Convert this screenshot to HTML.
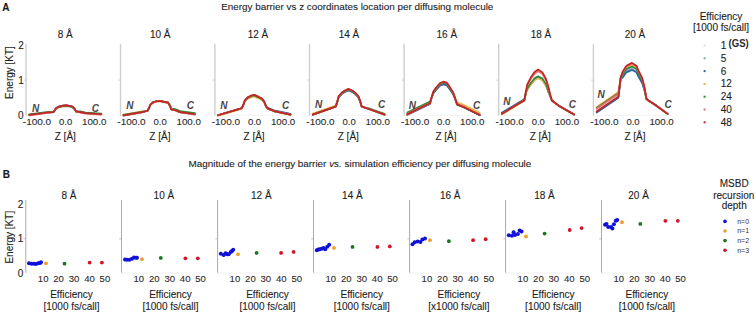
<!DOCTYPE html>
<html><head><meta charset="utf-8"><style>
html,body{margin:0;padding:0;background:#fff;}
svg{display:block;font-family:"Liberation Sans",sans-serif;}
</style></head><body>
<svg width="756" height="314" viewBox="0 0 756 314">
<rect width="756" height="314" fill="#fff"/>
<text x="357.30" y="9.60" font-size="9.9" text-anchor="middle" font-weight="normal" font-style="normal" fill="#1c1c1c" stroke="#1c1c1c" stroke-width="0.1" >Energy barrier vs z coordinates location per diffusing molecule</text>
<text x="2.30" y="10.50" font-size="10" text-anchor="start" font-weight="bold" font-style="normal" fill="#1c1c1c" stroke="#1c1c1c" stroke-width="0.15" >A</text>
<text x="188.6" y="167" font-size="9.9" fill="#1c1c1c" stroke="#1c1c1c" stroke-width="0.1">Magnitude of the energy barrier <tspan font-style="italic">vs.</tspan> simulation efficiency per diffusing molecule</text>
<text x="2.80" y="178.40" font-size="10" text-anchor="start" font-weight="bold" font-style="normal" fill="#1c1c1c" stroke="#1c1c1c" stroke-width="0.15" >B</text>
<line x1="26.0" y1="43.8" x2="26.0" y2="115.8" stroke="#cfcfcf" stroke-width="1.4"/>
<line x1="26.0" y1="115.3" x2="105.0" y2="115.3" stroke="#efefef" stroke-width="0.8"/>
<line x1="23.8" y1="80.1" x2="26.0" y2="80.1" stroke="#cfcfcf" stroke-width="0.9"/>
<text x="65.30" y="37.80" font-size="10" text-anchor="middle" font-weight="normal" font-style="normal" fill="#1c1c1c" stroke="#1c1c1c" stroke-width="0.1" >8 Å</text>
<path d="M29.28,114.95 L48.01,112.48 L53.39,112.13 L54.90,110.02 L55.99,108.26 L58.74,106.68 L63.31,105.62 L66.46,105.44 L71.89,106.32 L74.18,108.26 L76.10,111.43 L80.19,112.13 L85.91,113.19 L101.35,114.24" fill="none" stroke="#dcdce4" stroke-width="1.7" stroke-linejoin="round" stroke-linecap="round"/>
<path d="M29.28,114.95 L48.01,112.48 L53.39,112.13 L54.90,110.02 L55.99,108.26 L58.74,106.68 L63.31,105.62 L66.46,105.44 L71.89,106.32 L74.18,108.26 L76.10,111.43 L80.19,112.13 L85.91,113.19 L101.35,114.24" fill="none" stroke="#7ea4cc" stroke-width="1.7" stroke-linejoin="round" stroke-linecap="round"/>
<path d="M29.28,114.95 L48.01,112.48 L53.39,112.13 L54.90,110.02 L55.99,108.26 L58.74,106.68 L63.31,105.62 L66.46,105.44 L71.89,106.32 L74.18,108.26 L76.10,111.43 L80.19,112.13 L85.91,113.19 L101.35,114.24" fill="none" stroke="#2f62a0" stroke-width="1.7" stroke-linejoin="round" stroke-linecap="round"/>
<path d="M29.28,114.95 L48.01,112.48 L53.39,112.17 L54.90,110.18 L55.99,108.47 L58.74,106.93 L63.31,105.91 L66.46,105.74 L71.89,106.59 L74.18,108.47 L76.10,111.54 L80.19,112.13 L85.91,113.19 L101.35,114.24" fill="none" stroke="#eab24a" stroke-width="1.7" stroke-linejoin="round" stroke-linecap="round"/>
<path d="M29.28,114.42 L48.01,111.96 L53.39,112.22 L54.90,110.39 L55.99,108.75 L58.74,107.28 L63.31,106.30 L66.46,106.13 L71.89,106.95 L74.18,108.75 L76.10,111.70 L80.19,111.43 L85.91,112.48 L101.35,113.54" fill="none" stroke="#2e8b3e" stroke-width="1.7" stroke-linejoin="round" stroke-linecap="round"/>
<path d="M29.28,115.37 L48.01,112.91 L53.39,112.13 L54.90,110.02 L55.99,108.26 L58.74,106.68 L63.31,105.62 L66.46,105.44 L71.89,106.32 L74.18,108.26 L76.10,111.43 L80.19,112.55 L85.91,113.61 L101.35,114.67" fill="none" stroke="#ee6e6e" stroke-width="1.7" stroke-linejoin="round" stroke-linecap="round"/>
<path d="M29.28,114.95 L48.01,112.48 L53.39,112.13 L54.90,110.02 L55.99,108.26 L58.74,106.68 L63.31,105.62 L66.46,105.44 L71.89,106.32 L74.18,108.26 L76.10,111.43 L80.19,112.13 L85.91,113.19 L101.35,114.24" fill="none" stroke="#c02626" stroke-width="1.7" stroke-linejoin="round" stroke-linecap="round"/>
<text x="35.60" y="112.00" font-size="10" text-anchor="middle" font-weight="bold" font-style="italic" fill="#484848" >N</text>
<text x="95.30" y="112.20" font-size="10" text-anchor="middle" font-weight="bold" font-style="italic" fill="#484848" >C</text>
<text x="37.00" y="124.80" font-size="9.3" text-anchor="middle" font-weight="normal" font-style="normal" fill="#2a2a2a" stroke="#2a2a2a" stroke-width="0.1" textLength="28.3" lengthAdjust="spacingAndGlyphs">-100.0</text>
<text x="65.60" y="124.80" font-size="9.3" text-anchor="middle" font-weight="normal" font-style="normal" fill="#2a2a2a" stroke="#2a2a2a" stroke-width="0.1" textLength="13.2" lengthAdjust="spacingAndGlyphs">0.0</text>
<text x="94.20" y="124.80" font-size="9.3" text-anchor="middle" font-weight="normal" font-style="normal" fill="#2a2a2a" stroke="#2a2a2a" stroke-width="0.1" textLength="24.4" lengthAdjust="spacingAndGlyphs">100.0</text>
<text x="65.30" y="140.00" font-size="10" text-anchor="middle" font-weight="normal" font-style="normal" fill="#1c1c1c" stroke="#1c1c1c" stroke-width="0.1" >Z [Å]</text>
<line x1="120.5" y1="43.8" x2="120.5" y2="115.8" stroke="#cfcfcf" stroke-width="1.4"/>
<line x1="120.5" y1="115.3" x2="199.5" y2="115.3" stroke="#efefef" stroke-width="0.8"/>
<line x1="118.3" y1="80.1" x2="120.5" y2="80.1" stroke="#cfcfcf" stroke-width="0.9"/>
<text x="160.20" y="37.80" font-size="10" text-anchor="middle" font-weight="normal" font-style="normal" fill="#1c1c1c" stroke="#1c1c1c" stroke-width="0.1" >10 Å</text>
<path d="M123.49,115.30 L142.08,112.13 L147.52,110.72 L148.95,108.26 L150.38,104.74 L152.66,102.63 L156.50,101.22 L159.61,100.87 L164.10,101.92 L168.11,102.63 L170.11,106.15 L171.25,109.32 L174.97,110.02 L180.12,112.13 L194.99,114.24" fill="none" stroke="#dcdce4" stroke-width="1.7" stroke-linejoin="round" stroke-linecap="round"/>
<path d="M123.49,115.30 L142.08,112.13 L147.52,110.72 L148.95,108.26 L150.38,104.74 L152.66,102.63 L156.50,101.22 L159.61,100.87 L164.10,101.92 L168.11,102.63 L170.11,106.15 L171.25,109.32 L174.97,110.02 L180.12,112.13 L194.99,114.24" fill="none" stroke="#7ea4cc" stroke-width="1.7" stroke-linejoin="round" stroke-linecap="round"/>
<path d="M123.49,115.30 L142.08,112.13 L147.52,110.72 L148.95,108.26 L150.38,104.74 L152.66,102.63 L156.50,101.22 L159.61,100.87 L164.10,101.92 L168.11,102.63 L170.11,106.15 L171.25,109.32 L174.97,110.02 L180.12,112.13 L194.99,114.24" fill="none" stroke="#2f62a0" stroke-width="1.7" stroke-linejoin="round" stroke-linecap="round"/>
<path d="M123.49,114.60 L142.08,111.43 L147.52,110.76 L148.95,108.44 L150.38,105.06 L152.66,103.01 L156.50,101.64 L159.61,101.30 L164.10,102.33 L168.11,103.01 L170.11,106.42 L171.25,109.47 L174.97,110.02 L180.12,112.13 L194.99,114.24" fill="none" stroke="#eab24a" stroke-width="1.7" stroke-linejoin="round" stroke-linecap="round"/>
<path d="M123.49,114.95 L142.08,111.78 L147.52,110.72 L148.95,108.26 L150.38,104.74 L152.66,102.63 L156.50,101.22 L159.61,100.87 L164.10,101.92 L168.11,102.63 L170.11,106.15 L171.25,109.32 L174.97,108.96 L180.12,111.08 L194.99,113.19" fill="none" stroke="#2e8b3e" stroke-width="1.7" stroke-linejoin="round" stroke-linecap="round"/>
<path d="M123.49,115.65 L142.08,112.48 L147.52,110.72 L148.95,108.26 L150.38,104.74 L152.66,102.63 L156.50,101.22 L159.61,100.87 L164.10,101.92 L168.11,102.63 L170.11,106.15 L171.25,109.32 L174.97,110.37 L180.12,112.48 L194.99,114.60" fill="none" stroke="#ee6e6e" stroke-width="1.7" stroke-linejoin="round" stroke-linecap="round"/>
<path d="M123.49,115.30 L142.08,112.13 L147.52,110.72 L148.95,108.26 L150.38,104.74 L152.66,102.63 L156.50,101.22 L159.61,100.87 L164.10,101.92 L168.11,102.63 L170.11,106.15 L171.25,109.32 L174.97,110.02 L180.12,112.13 L194.99,114.24" fill="none" stroke="#c02626" stroke-width="1.7" stroke-linejoin="round" stroke-linecap="round"/>
<text x="129.80" y="108.60" font-size="10" text-anchor="middle" font-weight="bold" font-style="italic" fill="#484848" >N</text>
<text x="190.30" y="108.60" font-size="10" text-anchor="middle" font-weight="bold" font-style="italic" fill="#484848" >C</text>
<text x="131.50" y="124.80" font-size="9.3" text-anchor="middle" font-weight="normal" font-style="normal" fill="#2a2a2a" stroke="#2a2a2a" stroke-width="0.1" textLength="28.3" lengthAdjust="spacingAndGlyphs">-100.0</text>
<text x="160.10" y="124.80" font-size="9.3" text-anchor="middle" font-weight="normal" font-style="normal" fill="#2a2a2a" stroke="#2a2a2a" stroke-width="0.1" textLength="13.2" lengthAdjust="spacingAndGlyphs">0.0</text>
<text x="188.70" y="124.80" font-size="9.3" text-anchor="middle" font-weight="normal" font-style="normal" fill="#2a2a2a" stroke="#2a2a2a" stroke-width="0.1" textLength="24.4" lengthAdjust="spacingAndGlyphs">100.0</text>
<text x="159.90" y="140.00" font-size="10" text-anchor="middle" font-weight="normal" font-style="normal" fill="#1c1c1c" stroke="#1c1c1c" stroke-width="0.1" >Z [Å]</text>
<line x1="214.9" y1="43.8" x2="214.9" y2="115.8" stroke="#cfcfcf" stroke-width="1.4"/>
<line x1="214.9" y1="115.3" x2="293.9" y2="115.3" stroke="#efefef" stroke-width="0.8"/>
<line x1="212.70000000000002" y1="80.1" x2="214.9" y2="80.1" stroke="#cfcfcf" stroke-width="0.9"/>
<text x="258.00" y="37.80" font-size="10" text-anchor="middle" font-weight="normal" font-style="normal" fill="#1c1c1c" stroke="#1c1c1c" stroke-width="0.1" >12 Å</text>
<path d="M217.89,115.30 L237.91,109.32 L241.63,108.26 L243.35,104.74 L244.78,100.52 L247.81,97.35 L251.35,95.59 L254.10,94.88 L258.22,96.64 L261.65,98.40 L264.22,101.57 L266.08,106.50 L267.94,108.61 L273.95,111.08 L290.54,114.60" fill="none" stroke="#dcdce4" stroke-width="1.7" stroke-linejoin="round" stroke-linecap="round"/>
<path d="M217.89,115.30 L237.91,109.32 L241.63,108.26 L243.35,104.74 L244.78,100.52 L247.81,97.35 L251.35,95.59 L254.10,94.88 L258.22,96.64 L261.65,98.40 L264.22,101.57 L266.08,106.50 L267.94,108.61 L273.95,111.08 L290.54,114.60" fill="none" stroke="#7ea4cc" stroke-width="1.7" stroke-linejoin="round" stroke-linecap="round"/>
<path d="M217.89,115.30 L237.91,109.32 L241.63,108.26 L243.35,104.92 L244.78,100.81 L247.81,97.71 L251.35,95.98 L254.10,95.29 L258.22,97.02 L261.65,98.74 L264.22,101.85 L266.08,106.62 L267.94,107.91 L273.95,110.37 L290.54,113.89" fill="none" stroke="#2f62a0" stroke-width="1.7" stroke-linejoin="round" stroke-linecap="round"/>
<path d="M217.89,116.00 L237.91,110.02 L241.63,108.96 L243.35,105.48 L244.78,101.70 L247.81,98.78 L251.35,97.16 L254.10,96.52 L258.22,98.14 L261.65,99.76 L264.22,102.67 L266.08,106.98 L267.94,108.96 L273.95,111.43 L290.54,114.95" fill="none" stroke="#eab24a" stroke-width="1.7" stroke-linejoin="round" stroke-linecap="round"/>
<path d="M217.89,115.30 L237.91,109.32 L241.63,108.26 L243.35,105.02 L244.78,100.96 L247.81,97.89 L251.35,96.18 L254.10,95.50 L258.22,97.20 L261.65,98.91 L264.22,101.98 L266.08,106.68 L267.94,108.61 L273.95,111.08 L290.54,114.60" fill="none" stroke="#2e8b3e" stroke-width="1.7" stroke-linejoin="round" stroke-linecap="round"/>
<path d="M217.89,115.30 L237.91,109.32 L241.63,108.26 L243.35,104.83 L244.78,100.66 L247.81,97.53 L251.35,95.79 L254.10,95.09 L258.22,96.83 L261.65,98.57 L264.22,101.71 L266.08,106.56 L267.94,108.61 L273.95,111.08 L290.54,114.60" fill="none" stroke="#ee6e6e" stroke-width="1.7" stroke-linejoin="round" stroke-linecap="round"/>
<path d="M217.89,115.30 L237.91,109.32 L241.63,108.26 L243.35,104.74 L244.78,100.52 L247.81,97.35 L251.35,95.59 L254.10,94.88 L258.22,96.64 L261.65,98.40 L264.22,101.57 L266.08,106.50 L267.94,108.61 L273.95,111.08 L290.54,114.60" fill="none" stroke="#c02626" stroke-width="1.7" stroke-linejoin="round" stroke-linecap="round"/>
<text x="223.90" y="108.60" font-size="10" text-anchor="middle" font-weight="bold" font-style="italic" fill="#484848" >N</text>
<text x="285.70" y="108.60" font-size="10" text-anchor="middle" font-weight="bold" font-style="italic" fill="#484848" >C</text>
<text x="225.90" y="124.80" font-size="9.3" text-anchor="middle" font-weight="normal" font-style="normal" fill="#2a2a2a" stroke="#2a2a2a" stroke-width="0.1" textLength="28.3" lengthAdjust="spacingAndGlyphs">-100.0</text>
<text x="254.50" y="124.80" font-size="9.3" text-anchor="middle" font-weight="normal" font-style="normal" fill="#2a2a2a" stroke="#2a2a2a" stroke-width="0.1" textLength="13.2" lengthAdjust="spacingAndGlyphs">0.0</text>
<text x="283.10" y="124.80" font-size="9.3" text-anchor="middle" font-weight="normal" font-style="normal" fill="#2a2a2a" stroke="#2a2a2a" stroke-width="0.1" textLength="24.4" lengthAdjust="spacingAndGlyphs">100.0</text>
<text x="254.10" y="140.00" font-size="10" text-anchor="middle" font-weight="normal" font-style="normal" fill="#1c1c1c" stroke="#1c1c1c" stroke-width="0.1" >Z [Å]</text>
<line x1="309.5" y1="43.8" x2="309.5" y2="115.8" stroke="#cfcfcf" stroke-width="1.4"/>
<line x1="309.5" y1="115.3" x2="388.5" y2="115.3" stroke="#efefef" stroke-width="0.8"/>
<line x1="307.3" y1="80.1" x2="309.5" y2="80.1" stroke="#cfcfcf" stroke-width="0.9"/>
<text x="349.00" y="37.80" font-size="10" text-anchor="middle" font-weight="normal" font-style="normal" fill="#1c1c1c" stroke="#1c1c1c" stroke-width="0.1" >14 Å</text>
<path d="M312.78,114.60 L331.94,107.91 L335.80,106.50 L337.37,101.57 L338.69,97.05 L341.66,93.67 L345.38,91.31 L348.70,89.96 L352.53,91.65 L355.51,94.01 L358.40,97.05 L360.25,101.71 L361.68,106.59 L368.83,108.96 L384.56,114.60" fill="none" stroke="#dcdce4" stroke-width="1.7" stroke-linejoin="round" stroke-linecap="round"/>
<path d="M312.78,114.60 L331.94,107.91 L335.80,106.50 L337.37,101.66 L338.69,97.24 L341.66,93.90 L345.38,91.56 L348.70,90.22 L352.53,91.89 L355.51,94.23 L358.40,97.24 L360.25,101.84 L361.68,106.61 L368.83,108.96 L384.56,114.60" fill="none" stroke="#7ea4cc" stroke-width="1.7" stroke-linejoin="round" stroke-linecap="round"/>
<path d="M312.78,114.60 L331.94,107.91 L335.80,106.50 L337.37,101.75 L338.69,97.43 L341.66,94.12 L345.38,91.81 L348.70,90.48 L352.53,92.14 L355.51,94.45 L358.40,97.43 L360.25,101.96 L361.68,106.63 L368.83,108.96 L384.56,114.60" fill="none" stroke="#2f62a0" stroke-width="1.7" stroke-linejoin="round" stroke-linecap="round"/>
<path d="M312.78,113.54 L331.94,106.85 L335.80,105.44 L337.37,101.40 L338.69,96.67 L341.66,93.22 L345.38,90.81 L348.70,89.43 L352.53,91.15 L355.51,93.57 L358.40,96.67 L360.25,101.47 L361.68,106.54 L368.83,108.96 L384.56,114.60" fill="none" stroke="#eab24a" stroke-width="1.7" stroke-linejoin="round" stroke-linecap="round"/>
<path d="M312.78,114.60 L331.94,107.91 L335.80,106.50 L337.37,101.40 L338.69,96.67 L341.66,93.22 L345.38,90.81 L348.70,89.43 L352.53,91.15 L355.51,93.57 L358.40,96.67 L360.25,101.47 L361.68,106.54 L368.83,108.26 L384.56,113.89" fill="none" stroke="#2e8b3e" stroke-width="1.7" stroke-linejoin="round" stroke-linecap="round"/>
<path d="M312.78,114.60 L331.94,107.91 L335.80,106.50 L337.37,101.22 L338.69,96.29 L341.66,92.77 L345.38,90.31 L348.70,88.90 L352.53,90.66 L355.51,93.12 L358.40,96.29 L360.25,101.22 L361.68,106.50 L368.83,108.96 L384.56,114.60" fill="none" stroke="#ee6e6e" stroke-width="1.7" stroke-linejoin="round" stroke-linecap="round"/>
<path d="M312.78,114.60 L331.94,107.91 L335.80,106.50 L337.37,101.22 L338.69,96.29 L341.66,92.77 L345.38,90.31 L348.70,88.90 L352.53,90.66 L355.51,93.12 L358.40,96.29 L360.25,101.22 L361.68,106.50 L368.83,108.96 L384.56,114.60" fill="none" stroke="#c02626" stroke-width="1.7" stroke-linejoin="round" stroke-linecap="round"/>
<text x="318.60" y="108.40" font-size="10" text-anchor="middle" font-weight="bold" font-style="italic" fill="#484848" >N</text>
<text x="381.50" y="108.40" font-size="10" text-anchor="middle" font-weight="bold" font-style="italic" fill="#484848" >C</text>
<text x="320.50" y="124.80" font-size="9.3" text-anchor="middle" font-weight="normal" font-style="normal" fill="#2a2a2a" stroke="#2a2a2a" stroke-width="0.1" textLength="28.3" lengthAdjust="spacingAndGlyphs">-100.0</text>
<text x="349.10" y="124.80" font-size="9.3" text-anchor="middle" font-weight="normal" font-style="normal" fill="#2a2a2a" stroke="#2a2a2a" stroke-width="0.1" textLength="13.2" lengthAdjust="spacingAndGlyphs">0.0</text>
<text x="377.70" y="124.80" font-size="9.3" text-anchor="middle" font-weight="normal" font-style="normal" fill="#2a2a2a" stroke="#2a2a2a" stroke-width="0.1" textLength="24.4" lengthAdjust="spacingAndGlyphs">100.0</text>
<text x="348.30" y="140.00" font-size="10" text-anchor="middle" font-weight="normal" font-style="normal" fill="#1c1c1c" stroke="#1c1c1c" stroke-width="0.1" >Z [Å]</text>
<line x1="404.1" y1="43.8" x2="404.1" y2="115.8" stroke="#cfcfcf" stroke-width="1.4"/>
<line x1="404.1" y1="115.3" x2="483.1" y2="115.3" stroke="#efefef" stroke-width="0.8"/>
<line x1="401.90000000000003" y1="80.1" x2="404.1" y2="80.1" stroke="#cfcfcf" stroke-width="0.9"/>
<text x="446.80" y="37.80" font-size="10" text-anchor="middle" font-weight="normal" font-style="normal" fill="#1c1c1c" stroke="#1c1c1c" stroke-width="0.1" >16 Å</text>
<path d="M407.21,114.24 L429.97,103.33 L431.69,97.55 L433.49,92.80 L436.26,89.16 L439.81,85.19 L443.21,83.70 L446.70,84.53 L450.28,89.49 L453.14,93.79 L455.43,99.72 L457.14,103.33 L464.01,106.15 L479.74,113.89" fill="none" stroke="#dcdce4" stroke-width="1.7" stroke-linejoin="round" stroke-linecap="round"/>
<path d="M407.21,114.60 L429.97,103.68 L431.69,97.64 L433.49,93.04 L436.26,89.44 L439.81,85.51 L443.21,84.04 L446.70,84.86 L450.28,89.77 L453.14,94.02 L455.43,99.82 L457.14,104.39 L464.01,107.20 L479.74,114.95" fill="none" stroke="#7ea4cc" stroke-width="1.7" stroke-linejoin="round" stroke-linecap="round"/>
<path d="M407.21,114.95 L429.97,104.04 L431.69,97.73 L433.49,93.28 L436.26,89.72 L439.81,85.83 L443.21,84.37 L446.70,85.18 L450.28,90.04 L453.14,94.25 L455.43,99.92 L457.14,104.74 L464.01,107.56 L479.74,115.30" fill="none" stroke="#2f62a0" stroke-width="1.7" stroke-linejoin="round" stroke-linecap="round"/>
<path d="M407.21,114.24 L429.97,103.33 L431.69,97.18 L433.49,91.84 L436.26,88.05 L439.81,83.91 L443.21,82.36 L446.70,83.22 L450.28,88.39 L453.14,92.88 L455.43,99.31 L457.14,102.28 L464.01,105.09 L479.74,112.84" fill="none" stroke="#eab24a" stroke-width="1.7" stroke-linejoin="round" stroke-linecap="round"/>
<path d="M407.21,112.48 L429.97,101.57 L431.69,97.27 L433.49,92.08 L436.26,88.33 L439.81,84.23 L443.21,82.69 L446.70,83.55 L450.28,88.67 L453.14,93.11 L455.43,99.41 L457.14,104.39 L464.01,107.20 L479.74,114.95" fill="none" stroke="#2e8b3e" stroke-width="1.7" stroke-linejoin="round" stroke-linecap="round"/>
<path d="M407.21,113.89 L429.97,102.98 L431.69,97.09 L433.49,91.60 L436.26,87.77 L439.81,83.59 L443.21,82.02 L446.70,82.89 L450.28,88.12 L453.14,92.65 L455.43,99.21 L457.14,104.04 L464.01,106.85 L479.74,114.60" fill="none" stroke="#ee6e6e" stroke-width="1.7" stroke-linejoin="round" stroke-linecap="round"/>
<path d="M407.21,114.24 L429.97,103.33 L431.69,97.00 L433.49,91.36 L436.26,87.49 L439.81,83.27 L443.21,81.68 L446.70,82.56 L450.28,87.84 L453.14,92.42 L455.43,99.11 L457.14,104.39 L464.01,107.20 L479.74,114.95" fill="none" stroke="#c02626" stroke-width="1.7" stroke-linejoin="round" stroke-linecap="round"/>
<text x="412.40" y="108.80" font-size="10" text-anchor="middle" font-weight="bold" font-style="italic" fill="#484848" >N</text>
<text x="476.70" y="108.60" font-size="10" text-anchor="middle" font-weight="bold" font-style="italic" fill="#484848" >C</text>
<text x="415.10" y="124.80" font-size="9.3" text-anchor="middle" font-weight="normal" font-style="normal" fill="#2a2a2a" stroke="#2a2a2a" stroke-width="0.1" textLength="28.3" lengthAdjust="spacingAndGlyphs">-100.0</text>
<text x="443.70" y="124.80" font-size="9.3" text-anchor="middle" font-weight="normal" font-style="normal" fill="#2a2a2a" stroke="#2a2a2a" stroke-width="0.1" textLength="13.2" lengthAdjust="spacingAndGlyphs">0.0</text>
<text x="472.30" y="124.80" font-size="9.3" text-anchor="middle" font-weight="normal" font-style="normal" fill="#2a2a2a" stroke="#2a2a2a" stroke-width="0.1" textLength="24.4" lengthAdjust="spacingAndGlyphs">100.0</text>
<text x="446.00" y="140.00" font-size="10" text-anchor="middle" font-weight="normal" font-style="normal" fill="#1c1c1c" stroke="#1c1c1c" stroke-width="0.1" >Z [Å]</text>
<line x1="498.7" y1="43.8" x2="498.7" y2="115.8" stroke="#cfcfcf" stroke-width="1.4"/>
<line x1="498.7" y1="115.3" x2="577.7" y2="115.3" stroke="#efefef" stroke-width="0.8"/>
<line x1="496.5" y1="80.1" x2="498.7" y2="80.1" stroke="#cfcfcf" stroke-width="0.9"/>
<text x="541.00" y="37.80" font-size="10" text-anchor="middle" font-weight="normal" font-style="normal" fill="#1c1c1c" stroke="#1c1c1c" stroke-width="0.1" >18 Å</text>
<path d="M501.78,113.89 L524.40,100.16 L526.00,92.70 L527.29,89.70 L530.86,84.32 L534.58,80.01 L538.10,78.01 L542.50,80.30 L546.19,86.04 L548.31,91.78 L550.48,97.14 L551.88,100.52 L558.32,105.44 L574.05,114.60" fill="none" stroke="#dcdce4" stroke-width="1.7" stroke-linejoin="round" stroke-linecap="round"/>
<path d="M501.78,113.36 L524.40,99.64 L526.00,92.65 L527.29,89.55 L530.86,84.13 L534.58,79.80 L538.10,77.78 L542.50,80.09 L546.19,85.86 L548.31,91.63 L550.48,97.10 L551.88,100.52 L558.32,105.44 L574.05,114.60" fill="none" stroke="#7ea4cc" stroke-width="1.7" stroke-linejoin="round" stroke-linecap="round"/>
<path d="M501.78,112.84 L524.40,99.11 L526.00,92.56 L527.29,89.26 L530.86,83.75 L534.58,79.36 L538.10,77.32 L542.50,79.66 L546.19,85.50 L548.31,91.34 L550.48,97.01 L551.88,100.52 L558.32,105.44 L574.05,114.60" fill="none" stroke="#2f62a0" stroke-width="1.7" stroke-linejoin="round" stroke-linecap="round"/>
<path d="M501.78,114.42 L524.40,100.69 L526.00,92.74 L527.29,89.84 L530.86,84.51 L534.58,80.23 L538.10,78.23 L542.50,80.52 L546.19,86.22 L548.31,91.92 L550.48,97.18 L551.88,100.52 L558.32,105.44 L574.05,114.60" fill="none" stroke="#eab24a" stroke-width="1.7" stroke-linejoin="round" stroke-linecap="round"/>
<path d="M501.78,113.89 L524.40,100.16 L526.00,92.33 L527.29,88.53 L530.86,82.80 L534.58,78.28 L538.10,76.18 L542.50,78.58 L546.19,84.60 L548.31,90.62 L550.48,96.80 L551.88,100.52 L558.32,105.44 L574.05,114.60" fill="none" stroke="#2e8b3e" stroke-width="1.7" stroke-linejoin="round" stroke-linecap="round"/>
<path d="M501.78,113.89 L524.40,100.16 L526.00,91.38 L527.29,85.49 L530.86,78.80 L534.58,73.74 L538.10,71.37 L542.50,74.07 L546.19,80.83 L548.31,87.59 L550.48,95.92 L551.88,100.52 L558.32,105.44 L574.05,114.60" fill="none" stroke="#ee6e6e" stroke-width="1.7" stroke-linejoin="round" stroke-linecap="round"/>
<path d="M501.78,113.89 L524.40,100.16 L526.00,91.01 L527.29,84.32 L530.86,77.28 L534.58,72.00 L538.10,69.54 L542.50,72.36 L546.19,79.40 L548.31,86.44 L550.48,95.59 L551.88,100.52 L558.32,105.44 L574.05,114.60" fill="none" stroke="#c02626" stroke-width="1.7" stroke-linejoin="round" stroke-linecap="round"/>
<text x="506.90" y="104.80" font-size="10" text-anchor="middle" font-weight="bold" font-style="italic" fill="#484848" >N</text>
<text x="572.40" y="108.30" font-size="10" text-anchor="middle" font-weight="bold" font-style="italic" fill="#484848" >C</text>
<text x="509.70" y="124.80" font-size="9.3" text-anchor="middle" font-weight="normal" font-style="normal" fill="#2a2a2a" stroke="#2a2a2a" stroke-width="0.1" textLength="28.3" lengthAdjust="spacingAndGlyphs">-100.0</text>
<text x="538.30" y="124.80" font-size="9.3" text-anchor="middle" font-weight="normal" font-style="normal" fill="#2a2a2a" stroke="#2a2a2a" stroke-width="0.1" textLength="13.2" lengthAdjust="spacingAndGlyphs">0.0</text>
<text x="566.90" y="124.80" font-size="9.3" text-anchor="middle" font-weight="normal" font-style="normal" fill="#2a2a2a" stroke="#2a2a2a" stroke-width="0.1" textLength="24.4" lengthAdjust="spacingAndGlyphs">100.0</text>
<text x="540.20" y="140.00" font-size="10" text-anchor="middle" font-weight="normal" font-style="normal" fill="#1c1c1c" stroke="#1c1c1c" stroke-width="0.1" >Z [Å]</text>
<line x1="593.4" y1="43.8" x2="593.4" y2="115.8" stroke="#cfcfcf" stroke-width="1.4"/>
<line x1="593.4" y1="115.3" x2="672.4" y2="115.3" stroke="#efefef" stroke-width="0.8"/>
<line x1="591.1999999999999" y1="80.1" x2="593.4" y2="80.1" stroke="#cfcfcf" stroke-width="0.9"/>
<text x="635.00" y="37.80" font-size="10" text-anchor="middle" font-weight="normal" font-style="normal" fill="#1c1c1c" stroke="#1c1c1c" stroke-width="0.1" >20 Å</text>
<path d="M596.68,110.37 L618.41,95.59 L620.70,78.71 L622.70,76.02 L626.42,70.63 L632.00,68.10 L636.43,70.63 L638.61,75.38 L642.15,81.72 L644.30,88.78 L646.44,98.76 L648.44,100.52 L655.02,104.74 L667.61,113.89" fill="none" stroke="#dcdce4" stroke-width="1.7" stroke-linejoin="round" stroke-linecap="round"/>
<path d="M596.68,111.96 L618.41,97.17 L620.70,78.92 L622.70,76.67 L626.42,71.38 L632.00,68.88 L636.43,71.38 L638.61,76.05 L642.15,82.28 L644.30,89.13 L646.44,98.76 L648.44,100.52 L655.02,104.74 L667.61,113.89" fill="none" stroke="#7ea4cc" stroke-width="1.7" stroke-linejoin="round" stroke-linecap="round"/>
<path d="M596.68,112.48 L618.41,97.70 L620.70,79.21 L622.70,77.54 L626.42,72.37 L632.00,69.93 L636.43,72.37 L638.61,76.94 L642.15,83.03 L644.30,89.60 L646.44,98.76 L648.44,100.52 L655.02,104.74 L667.61,113.89" fill="none" stroke="#2f62a0" stroke-width="1.7" stroke-linejoin="round" stroke-linecap="round"/>
<path d="M596.68,106.85 L618.41,92.07 L620.70,77.78 L622.70,73.18 L626.42,67.41 L632.00,64.69 L636.43,67.41 L638.61,72.50 L642.15,79.29 L644.30,87.26 L646.44,98.76 L648.44,100.52 L655.02,104.74 L667.61,113.89" fill="none" stroke="#eab24a" stroke-width="1.7" stroke-linejoin="round" stroke-linecap="round"/>
<path d="M596.68,107.91 L618.41,93.12 L620.70,78.28 L622.70,74.71 L626.42,69.14 L632.00,66.52 L636.43,69.14 L638.61,74.05 L642.15,80.60 L644.30,88.08 L646.44,98.76 L648.44,100.52 L655.02,104.74 L667.61,113.89" fill="none" stroke="#2e8b3e" stroke-width="1.7" stroke-linejoin="round" stroke-linecap="round"/>
<path d="M596.68,108.79 L618.41,94.00 L620.70,77.50 L622.70,72.31 L626.42,66.41 L632.00,63.64 L636.43,66.41 L638.61,71.61 L642.15,78.55 L644.30,86.79 L646.44,98.76 L648.44,100.52 L655.02,104.74 L667.61,113.89" fill="none" stroke="#ee6e6e" stroke-width="1.7" stroke-linejoin="round" stroke-linecap="round"/>
<path d="M596.68,111.43 L618.41,96.64 L620.70,77.28 L622.70,71.65 L626.42,65.67 L632.00,62.85 L636.43,65.67 L638.61,70.95 L642.15,77.99 L644.30,86.44 L646.44,98.76 L648.44,100.52 L655.02,104.74 L667.61,113.89" fill="none" stroke="#c02626" stroke-width="1.7" stroke-linejoin="round" stroke-linecap="round"/>
<text x="601.10" y="97.80" font-size="10" text-anchor="middle" font-weight="bold" font-style="italic" fill="#484848" >N</text>
<text x="668.00" y="108.20" font-size="10" text-anchor="middle" font-weight="bold" font-style="italic" fill="#484848" >C</text>
<text x="604.40" y="124.80" font-size="9.3" text-anchor="middle" font-weight="normal" font-style="normal" fill="#2a2a2a" stroke="#2a2a2a" stroke-width="0.1" textLength="28.3" lengthAdjust="spacingAndGlyphs">-100.0</text>
<text x="633.00" y="124.80" font-size="9.3" text-anchor="middle" font-weight="normal" font-style="normal" fill="#2a2a2a" stroke="#2a2a2a" stroke-width="0.1" textLength="13.2" lengthAdjust="spacingAndGlyphs">0.0</text>
<text x="661.60" y="124.80" font-size="9.3" text-anchor="middle" font-weight="normal" font-style="normal" fill="#2a2a2a" stroke="#2a2a2a" stroke-width="0.1" textLength="24.4" lengthAdjust="spacingAndGlyphs">100.0</text>
<text x="635.00" y="140.00" font-size="10" text-anchor="middle" font-weight="normal" font-style="normal" fill="#1c1c1c" stroke="#1c1c1c" stroke-width="0.1" >Z [Å]</text>
<text x="23.80" y="48.50" font-size="10" text-anchor="end" font-weight="normal" font-style="normal" fill="#1c1c1c" stroke="#1c1c1c" stroke-width="0.1" >2</text>
<text x="23.80" y="84.00" font-size="10" text-anchor="end" font-weight="normal" font-style="normal" fill="#1c1c1c" stroke="#1c1c1c" stroke-width="0.1" >1</text>
<text x="23.60" y="119.30" font-size="10" text-anchor="end" font-weight="normal" font-style="normal" fill="#1c1c1c" stroke="#1c1c1c" stroke-width="0.1" >0</text>
<text transform="translate(13.4,72.5) rotate(-90)" font-size="10" text-anchor="middle" fill="#1c1c1c" stroke="#1c1c1c" stroke-width="0.1">Energy [KT]</text>
<text x="721.00" y="19.80" font-size="10" text-anchor="middle" font-weight="normal" font-style="normal" fill="#1c1c1c" stroke="#1c1c1c" stroke-width="0.1" >Efficiency</text>
<text x="721.00" y="31.00" font-size="10" text-anchor="middle" font-weight="normal" font-style="normal" fill="#1c1c1c" stroke="#1c1c1c" stroke-width="0.1" >[1000 fs/call]</text>
<rect x="703.6" y="44.5" width="2" height="2" fill="#dcdce4"/>
<text x="720.80" y="48.90" font-size="10" text-anchor="start" font-weight="normal" font-style="normal" fill="#1c1c1c" stroke="#1c1c1c" stroke-width="0.1" >1</text>
<rect x="703.6" y="57.3" width="2" height="2" fill="#7ea4cc"/>
<text x="720.80" y="61.70" font-size="10" text-anchor="start" font-weight="normal" font-style="normal" fill="#1c1c1c" stroke="#1c1c1c" stroke-width="0.1" >5</text>
<rect x="703.6" y="70.1" width="2" height="2" fill="#2f62a0"/>
<text x="720.80" y="74.50" font-size="10" text-anchor="start" font-weight="normal" font-style="normal" fill="#1c1c1c" stroke="#1c1c1c" stroke-width="0.1" >6</text>
<rect x="703.6" y="82.9" width="2" height="2" fill="#eab24a"/>
<text x="720.80" y="87.30" font-size="10" text-anchor="start" font-weight="normal" font-style="normal" fill="#1c1c1c" stroke="#1c1c1c" stroke-width="0.1" >12</text>
<rect x="703.6" y="95.7" width="2" height="2" fill="#2e8b3e"/>
<text x="720.80" y="100.10" font-size="10" text-anchor="start" font-weight="normal" font-style="normal" fill="#1c1c1c" stroke="#1c1c1c" stroke-width="0.1" >24</text>
<rect x="703.6" y="108.5" width="2" height="2" fill="#ee6e6e"/>
<text x="720.80" y="112.90" font-size="10" text-anchor="start" font-weight="normal" font-style="normal" fill="#1c1c1c" stroke="#1c1c1c" stroke-width="0.1" >40</text>
<rect x="703.6" y="121.30000000000001" width="2" height="2" fill="#c02626"/>
<text x="720.80" y="125.70" font-size="10" text-anchor="start" font-weight="normal" font-style="normal" fill="#1c1c1c" stroke="#1c1c1c" stroke-width="0.1" >48</text>
<text x="728.60" y="47.00" font-size="10" text-anchor="start" font-weight="bold" font-style="normal" fill="#2a2a2a" textLength="20.2" lengthAdjust="spacingAndGlyphs">(GS)</text>
<line x1="25.8" y1="200" x2="25.8" y2="272.8" stroke="#ababab" stroke-width="1"/>
<line x1="25.8" y1="273.0" x2="105.8" y2="273.0" stroke="#eeeeee" stroke-width="0.8"/>
<line x1="23.6" y1="238.8" x2="25.8" y2="238.8" stroke="#b8b8b8" stroke-width="0.9"/>
<text x="68.90" y="198.70" font-size="10" text-anchor="middle" font-weight="normal" font-style="normal" fill="#1c1c1c" stroke="#1c1c1c" stroke-width="0.1" >8 Å</text>
<circle cx="29.00" cy="263.30" r="2.0" fill="#1010d8"/>
<circle cx="31.50" cy="263.64" r="2.0" fill="#1010d8"/>
<circle cx="34.00" cy="263.81" r="2.0" fill="#1010d8"/>
<circle cx="36.00" cy="263.99" r="2.0" fill="#1010d8"/>
<circle cx="38.00" cy="263.30" r="2.0" fill="#1010d8"/>
<circle cx="40.00" cy="262.95" r="2.0" fill="#1010d8"/>
<circle cx="41.00" cy="262.26" r="2.0" fill="#1010d8"/>
<circle cx="46.00" cy="263.30" r="1.9" fill="#e8a32c"/>
<circle cx="64.50" cy="263.64" r="1.9" fill="#17761f"/>
<circle cx="89.60" cy="262.61" r="1.9" fill="#d0142a"/>
<circle cx="101.90" cy="262.61" r="1.9" fill="#d0142a"/>
<text x="43.14" y="282.10" font-size="9.3" text-anchor="middle" font-weight="normal" font-style="normal" fill="#2a2a2a" stroke="#2a2a2a" stroke-width="0.1" textLength="10.6" lengthAdjust="spacingAndGlyphs">10</text>
<text x="58.58" y="282.10" font-size="9.3" text-anchor="middle" font-weight="normal" font-style="normal" fill="#2a2a2a" stroke="#2a2a2a" stroke-width="0.1" textLength="10.6" lengthAdjust="spacingAndGlyphs">20</text>
<text x="74.02" y="282.10" font-size="9.3" text-anchor="middle" font-weight="normal" font-style="normal" fill="#2a2a2a" stroke="#2a2a2a" stroke-width="0.1" textLength="10.6" lengthAdjust="spacingAndGlyphs">30</text>
<text x="89.46" y="282.10" font-size="9.3" text-anchor="middle" font-weight="normal" font-style="normal" fill="#2a2a2a" stroke="#2a2a2a" stroke-width="0.1" textLength="10.6" lengthAdjust="spacingAndGlyphs">40</text>
<text x="104.90" y="282.10" font-size="9.3" text-anchor="middle" font-weight="normal" font-style="normal" fill="#2a2a2a" stroke="#2a2a2a" stroke-width="0.1" textLength="10.6" lengthAdjust="spacingAndGlyphs">50</text>
<text x="71.50" y="298.20" font-size="10" text-anchor="middle" font-weight="normal" font-style="normal" fill="#1c1c1c" stroke="#1c1c1c" stroke-width="0.1" >Efficiency</text>
<text x="71.50" y="309.90" font-size="10" text-anchor="middle" font-weight="normal" font-style="normal" fill="#1c1c1c" stroke="#1c1c1c" stroke-width="0.1" >[1000 fs/call]</text>
<line x1="121.5" y1="200" x2="121.5" y2="272.8" stroke="#ababab" stroke-width="1"/>
<line x1="121.5" y1="273.0" x2="201.5" y2="273.0" stroke="#eeeeee" stroke-width="0.8"/>
<line x1="119.3" y1="238.8" x2="121.5" y2="238.8" stroke="#b8b8b8" stroke-width="0.9"/>
<text x="163.90" y="198.70" font-size="10" text-anchor="middle" font-weight="normal" font-style="normal" fill="#1c1c1c" stroke="#1c1c1c" stroke-width="0.1" >10 Å</text>
<circle cx="125.00" cy="259.50" r="2.0" fill="#1010d8"/>
<circle cx="127.00" cy="259.85" r="2.0" fill="#1010d8"/>
<circle cx="129.50" cy="259.85" r="2.0" fill="#1010d8"/>
<circle cx="132.00" cy="258.81" r="2.0" fill="#1010d8"/>
<circle cx="134.00" cy="257.43" r="2.0" fill="#1010d8"/>
<circle cx="136.00" cy="257.78" r="2.0" fill="#1010d8"/>
<circle cx="137.00" cy="257.78" r="2.0" fill="#1010d8"/>
<circle cx="142.00" cy="259.16" r="1.9" fill="#e8a32c"/>
<circle cx="160.80" cy="257.91" r="1.9" fill="#17761f"/>
<circle cx="185.40" cy="258.29" r="1.9" fill="#d0142a"/>
<circle cx="197.80" cy="258.29" r="1.9" fill="#d0142a"/>
<text x="138.84" y="282.10" font-size="9.3" text-anchor="middle" font-weight="normal" font-style="normal" fill="#2a2a2a" stroke="#2a2a2a" stroke-width="0.1" textLength="10.6" lengthAdjust="spacingAndGlyphs">10</text>
<text x="154.28" y="282.10" font-size="9.3" text-anchor="middle" font-weight="normal" font-style="normal" fill="#2a2a2a" stroke="#2a2a2a" stroke-width="0.1" textLength="10.6" lengthAdjust="spacingAndGlyphs">20</text>
<text x="169.72" y="282.10" font-size="9.3" text-anchor="middle" font-weight="normal" font-style="normal" fill="#2a2a2a" stroke="#2a2a2a" stroke-width="0.1" textLength="10.6" lengthAdjust="spacingAndGlyphs">30</text>
<text x="185.16" y="282.10" font-size="9.3" text-anchor="middle" font-weight="normal" font-style="normal" fill="#2a2a2a" stroke="#2a2a2a" stroke-width="0.1" textLength="10.6" lengthAdjust="spacingAndGlyphs">40</text>
<text x="200.60" y="282.10" font-size="9.3" text-anchor="middle" font-weight="normal" font-style="normal" fill="#2a2a2a" stroke="#2a2a2a" stroke-width="0.1" textLength="10.6" lengthAdjust="spacingAndGlyphs">50</text>
<text x="170.50" y="298.20" font-size="10" text-anchor="middle" font-weight="normal" font-style="normal" fill="#1c1c1c" stroke="#1c1c1c" stroke-width="0.1" >Efficiency</text>
<text x="170.50" y="309.90" font-size="10" text-anchor="middle" font-weight="normal" font-style="normal" fill="#1c1c1c" stroke="#1c1c1c" stroke-width="0.1" >[1000 fs/call]</text>
<line x1="217.6" y1="200" x2="217.6" y2="272.8" stroke="#ababab" stroke-width="1"/>
<line x1="217.6" y1="273.0" x2="297.6" y2="273.0" stroke="#eeeeee" stroke-width="0.8"/>
<line x1="215.4" y1="238.8" x2="217.6" y2="238.8" stroke="#b8b8b8" stroke-width="0.9"/>
<text x="261.30" y="198.70" font-size="10" text-anchor="middle" font-weight="normal" font-style="normal" fill="#1c1c1c" stroke="#1c1c1c" stroke-width="0.1" >12 Å</text>
<circle cx="220.80" cy="253.81" r="2.0" fill="#1010d8"/>
<circle cx="223.70" cy="255.02" r="2.0" fill="#1010d8"/>
<circle cx="225.60" cy="253.29" r="2.0" fill="#1010d8"/>
<circle cx="227.20" cy="254.33" r="2.0" fill="#1010d8"/>
<circle cx="228.70" cy="254.33" r="2.0" fill="#1010d8"/>
<circle cx="230.80" cy="251.91" r="2.0" fill="#1010d8"/>
<circle cx="232.00" cy="250.88" r="2.0" fill="#1010d8"/>
<circle cx="233.20" cy="249.84" r="2.0" fill="#1010d8"/>
<circle cx="238.00" cy="254.33" r="1.9" fill="#e8a32c"/>
<circle cx="256.60" cy="252.95" r="1.9" fill="#17761f"/>
<circle cx="281.10" cy="252.95" r="1.9" fill="#d0142a"/>
<circle cx="293.60" cy="251.91" r="1.9" fill="#d0142a"/>
<text x="234.94" y="282.10" font-size="9.3" text-anchor="middle" font-weight="normal" font-style="normal" fill="#2a2a2a" stroke="#2a2a2a" stroke-width="0.1" textLength="10.6" lengthAdjust="spacingAndGlyphs">10</text>
<text x="250.38" y="282.10" font-size="9.3" text-anchor="middle" font-weight="normal" font-style="normal" fill="#2a2a2a" stroke="#2a2a2a" stroke-width="0.1" textLength="10.6" lengthAdjust="spacingAndGlyphs">20</text>
<text x="265.82" y="282.10" font-size="9.3" text-anchor="middle" font-weight="normal" font-style="normal" fill="#2a2a2a" stroke="#2a2a2a" stroke-width="0.1" textLength="10.6" lengthAdjust="spacingAndGlyphs">30</text>
<text x="281.26" y="282.10" font-size="9.3" text-anchor="middle" font-weight="normal" font-style="normal" fill="#2a2a2a" stroke="#2a2a2a" stroke-width="0.1" textLength="10.6" lengthAdjust="spacingAndGlyphs">40</text>
<text x="296.70" y="282.10" font-size="9.3" text-anchor="middle" font-weight="normal" font-style="normal" fill="#2a2a2a" stroke="#2a2a2a" stroke-width="0.1" textLength="10.6" lengthAdjust="spacingAndGlyphs">50</text>
<text x="267.50" y="298.20" font-size="10" text-anchor="middle" font-weight="normal" font-style="normal" fill="#1c1c1c" stroke="#1c1c1c" stroke-width="0.1" >Efficiency</text>
<text x="267.50" y="309.90" font-size="10" text-anchor="middle" font-weight="normal" font-style="normal" fill="#1c1c1c" stroke="#1c1c1c" stroke-width="0.1" >[1000 fs/call]</text>
<line x1="313.5" y1="200" x2="313.5" y2="272.8" stroke="#ababab" stroke-width="1"/>
<line x1="313.5" y1="273.0" x2="393.5" y2="273.0" stroke="#eeeeee" stroke-width="0.8"/>
<line x1="311.3" y1="238.8" x2="313.5" y2="238.8" stroke="#b8b8b8" stroke-width="0.9"/>
<text x="352.40" y="198.70" font-size="10" text-anchor="middle" font-weight="normal" font-style="normal" fill="#1c1c1c" stroke="#1c1c1c" stroke-width="0.1" >14 Å</text>
<circle cx="316.80" cy="250.29" r="2.0" fill="#1010d8"/>
<circle cx="318.20" cy="249.50" r="2.0" fill="#1010d8"/>
<circle cx="319.70" cy="249.15" r="2.0" fill="#1010d8"/>
<circle cx="321.60" cy="248.81" r="2.0" fill="#1010d8"/>
<circle cx="323.50" cy="248.12" r="2.0" fill="#1010d8"/>
<circle cx="325.20" cy="249.15" r="2.0" fill="#1010d8"/>
<circle cx="327.30" cy="246.74" r="2.0" fill="#1010d8"/>
<circle cx="329.20" cy="244.67" r="2.0" fill="#1010d8"/>
<circle cx="334.00" cy="247.91" r="1.9" fill="#e8a32c"/>
<circle cx="352.50" cy="246.91" r="1.9" fill="#17761f"/>
<circle cx="377.40" cy="246.91" r="1.9" fill="#d0142a"/>
<circle cx="389.80" cy="246.39" r="1.9" fill="#d0142a"/>
<text x="330.84" y="282.10" font-size="9.3" text-anchor="middle" font-weight="normal" font-style="normal" fill="#2a2a2a" stroke="#2a2a2a" stroke-width="0.1" textLength="10.6" lengthAdjust="spacingAndGlyphs">10</text>
<text x="346.28" y="282.10" font-size="9.3" text-anchor="middle" font-weight="normal" font-style="normal" fill="#2a2a2a" stroke="#2a2a2a" stroke-width="0.1" textLength="10.6" lengthAdjust="spacingAndGlyphs">20</text>
<text x="361.72" y="282.10" font-size="9.3" text-anchor="middle" font-weight="normal" font-style="normal" fill="#2a2a2a" stroke="#2a2a2a" stroke-width="0.1" textLength="10.6" lengthAdjust="spacingAndGlyphs">30</text>
<text x="377.16" y="282.10" font-size="9.3" text-anchor="middle" font-weight="normal" font-style="normal" fill="#2a2a2a" stroke="#2a2a2a" stroke-width="0.1" textLength="10.6" lengthAdjust="spacingAndGlyphs">40</text>
<text x="392.60" y="282.10" font-size="9.3" text-anchor="middle" font-weight="normal" font-style="normal" fill="#2a2a2a" stroke="#2a2a2a" stroke-width="0.1" textLength="10.6" lengthAdjust="spacingAndGlyphs">50</text>
<text x="361.80" y="298.20" font-size="10" text-anchor="middle" font-weight="normal" font-style="normal" fill="#1c1c1c" stroke="#1c1c1c" stroke-width="0.1" >Efficiency</text>
<text x="361.80" y="309.90" font-size="10" text-anchor="middle" font-weight="normal" font-style="normal" fill="#1c1c1c" stroke="#1c1c1c" stroke-width="0.1" >[1000 fs/call]</text>
<line x1="409.6" y1="200" x2="409.6" y2="272.8" stroke="#ababab" stroke-width="1"/>
<line x1="409.6" y1="273.0" x2="489.6" y2="273.0" stroke="#eeeeee" stroke-width="0.8"/>
<line x1="407.40000000000003" y1="238.8" x2="409.6" y2="238.8" stroke="#b8b8b8" stroke-width="0.9"/>
<text x="450.20" y="198.70" font-size="10" text-anchor="middle" font-weight="normal" font-style="normal" fill="#1c1c1c" stroke="#1c1c1c" stroke-width="0.1" >16 Å</text>
<circle cx="412.50" cy="244.22" r="2.0" fill="#1010d8"/>
<circle cx="414.70" cy="242.25" r="2.0" fill="#1010d8"/>
<circle cx="417.60" cy="241.56" r="2.0" fill="#1010d8"/>
<circle cx="420.40" cy="241.91" r="2.0" fill="#1010d8"/>
<circle cx="422.40" cy="239.49" r="2.0" fill="#1010d8"/>
<circle cx="425.00" cy="238.46" r="2.0" fill="#1010d8"/>
<circle cx="430.00" cy="240.18" r="1.9" fill="#e8a32c"/>
<circle cx="448.90" cy="241.22" r="1.9" fill="#17761f"/>
<circle cx="473.10" cy="240.18" r="1.9" fill="#d0142a"/>
<circle cx="485.70" cy="239.15" r="1.9" fill="#d0142a"/>
<text x="426.94" y="282.10" font-size="9.3" text-anchor="middle" font-weight="normal" font-style="normal" fill="#2a2a2a" stroke="#2a2a2a" stroke-width="0.1" textLength="10.6" lengthAdjust="spacingAndGlyphs">10</text>
<text x="442.38" y="282.10" font-size="9.3" text-anchor="middle" font-weight="normal" font-style="normal" fill="#2a2a2a" stroke="#2a2a2a" stroke-width="0.1" textLength="10.6" lengthAdjust="spacingAndGlyphs">20</text>
<text x="457.82" y="282.10" font-size="9.3" text-anchor="middle" font-weight="normal" font-style="normal" fill="#2a2a2a" stroke="#2a2a2a" stroke-width="0.1" textLength="10.6" lengthAdjust="spacingAndGlyphs">30</text>
<text x="473.26" y="282.10" font-size="9.3" text-anchor="middle" font-weight="normal" font-style="normal" fill="#2a2a2a" stroke="#2a2a2a" stroke-width="0.1" textLength="10.6" lengthAdjust="spacingAndGlyphs">40</text>
<text x="488.70" y="282.10" font-size="9.3" text-anchor="middle" font-weight="normal" font-style="normal" fill="#2a2a2a" stroke="#2a2a2a" stroke-width="0.1" textLength="10.6" lengthAdjust="spacingAndGlyphs">50</text>
<text x="458.90" y="298.20" font-size="10" text-anchor="middle" font-weight="normal" font-style="normal" fill="#1c1c1c" stroke="#1c1c1c" stroke-width="0.1" >Efficiency</text>
<text x="458.90" y="309.90" font-size="10" text-anchor="middle" font-weight="normal" font-style="normal" fill="#1c1c1c" stroke="#1c1c1c" stroke-width="0.1" >[x1000 fs/call]</text>
<line x1="505.6" y1="200" x2="505.6" y2="272.8" stroke="#ababab" stroke-width="1"/>
<line x1="505.6" y1="273.0" x2="585.6" y2="273.0" stroke="#eeeeee" stroke-width="0.8"/>
<line x1="503.40000000000003" y1="238.8" x2="505.6" y2="238.8" stroke="#b8b8b8" stroke-width="0.9"/>
<text x="544.50" y="198.70" font-size="10" text-anchor="middle" font-weight="normal" font-style="normal" fill="#1c1c1c" stroke="#1c1c1c" stroke-width="0.1" >18 Å</text>
<circle cx="508.80" cy="235.35" r="2.0" fill="#1010d8"/>
<circle cx="511.90" cy="235.69" r="2.0" fill="#1010d8"/>
<circle cx="513.60" cy="232.25" r="2.0" fill="#1010d8"/>
<circle cx="515.00" cy="235.00" r="2.0" fill="#1010d8"/>
<circle cx="517.90" cy="233.97" r="2.0" fill="#1010d8"/>
<circle cx="519.60" cy="230.52" r="2.0" fill="#1010d8"/>
<circle cx="521.50" cy="231.56" r="2.0" fill="#1010d8"/>
<circle cx="526.00" cy="236.39" r="1.9" fill="#e8a32c"/>
<circle cx="544.60" cy="233.62" r="1.9" fill="#17761f"/>
<circle cx="569.70" cy="230.00" r="1.9" fill="#d0142a"/>
<circle cx="581.60" cy="228.11" r="1.9" fill="#d0142a"/>
<text x="522.94" y="282.10" font-size="9.3" text-anchor="middle" font-weight="normal" font-style="normal" fill="#2a2a2a" stroke="#2a2a2a" stroke-width="0.1" textLength="10.6" lengthAdjust="spacingAndGlyphs">10</text>
<text x="538.38" y="282.10" font-size="9.3" text-anchor="middle" font-weight="normal" font-style="normal" fill="#2a2a2a" stroke="#2a2a2a" stroke-width="0.1" textLength="10.6" lengthAdjust="spacingAndGlyphs">20</text>
<text x="553.82" y="282.10" font-size="9.3" text-anchor="middle" font-weight="normal" font-style="normal" fill="#2a2a2a" stroke="#2a2a2a" stroke-width="0.1" textLength="10.6" lengthAdjust="spacingAndGlyphs">30</text>
<text x="569.26" y="282.10" font-size="9.3" text-anchor="middle" font-weight="normal" font-style="normal" fill="#2a2a2a" stroke="#2a2a2a" stroke-width="0.1" textLength="10.6" lengthAdjust="spacingAndGlyphs">40</text>
<text x="584.70" y="282.10" font-size="9.3" text-anchor="middle" font-weight="normal" font-style="normal" fill="#2a2a2a" stroke="#2a2a2a" stroke-width="0.1" textLength="10.6" lengthAdjust="spacingAndGlyphs">50</text>
<text x="553.20" y="298.20" font-size="10" text-anchor="middle" font-weight="normal" font-style="normal" fill="#1c1c1c" stroke="#1c1c1c" stroke-width="0.1" >Efficiency</text>
<text x="553.20" y="309.90" font-size="10" text-anchor="middle" font-weight="normal" font-style="normal" fill="#1c1c1c" stroke="#1c1c1c" stroke-width="0.1" >[1000 fs/call]</text>
<line x1="601.5" y1="200" x2="601.5" y2="272.8" stroke="#ababab" stroke-width="1"/>
<line x1="601.5" y1="273.0" x2="681.5" y2="273.0" stroke="#eeeeee" stroke-width="0.8"/>
<line x1="599.3" y1="238.8" x2="601.5" y2="238.8" stroke="#b8b8b8" stroke-width="0.9"/>
<text x="638.60" y="198.70" font-size="10" text-anchor="middle" font-weight="normal" font-style="normal" fill="#1c1c1c" stroke="#1c1c1c" stroke-width="0.1" >20 Å</text>
<circle cx="605.00" cy="224.66" r="2.0" fill="#1010d8"/>
<circle cx="606.50" cy="223.97" r="2.0" fill="#1010d8"/>
<circle cx="608.10" cy="227.07" r="2.0" fill="#1010d8"/>
<circle cx="611.00" cy="227.07" r="2.0" fill="#1010d8"/>
<circle cx="612.40" cy="228.45" r="2.0" fill="#1010d8"/>
<circle cx="613.90" cy="224.31" r="2.0" fill="#1010d8"/>
<circle cx="615.80" cy="220.86" r="2.0" fill="#1010d8"/>
<circle cx="617.20" cy="220.00" r="2.0" fill="#1010d8"/>
<circle cx="622.00" cy="222.24" r="1.9" fill="#e8a32c"/>
<circle cx="640.30" cy="223.97" r="1.9" fill="#17761f"/>
<circle cx="665.40" cy="220.86" r="1.9" fill="#d0142a"/>
<circle cx="677.80" cy="220.86" r="1.9" fill="#d0142a"/>
<text x="618.84" y="282.10" font-size="9.3" text-anchor="middle" font-weight="normal" font-style="normal" fill="#2a2a2a" stroke="#2a2a2a" stroke-width="0.1" textLength="10.6" lengthAdjust="spacingAndGlyphs">10</text>
<text x="634.28" y="282.10" font-size="9.3" text-anchor="middle" font-weight="normal" font-style="normal" fill="#2a2a2a" stroke="#2a2a2a" stroke-width="0.1" textLength="10.6" lengthAdjust="spacingAndGlyphs">20</text>
<text x="649.72" y="282.10" font-size="9.3" text-anchor="middle" font-weight="normal" font-style="normal" fill="#2a2a2a" stroke="#2a2a2a" stroke-width="0.1" textLength="10.6" lengthAdjust="spacingAndGlyphs">30</text>
<text x="665.16" y="282.10" font-size="9.3" text-anchor="middle" font-weight="normal" font-style="normal" fill="#2a2a2a" stroke="#2a2a2a" stroke-width="0.1" textLength="10.6" lengthAdjust="spacingAndGlyphs">40</text>
<text x="680.60" y="282.10" font-size="9.3" text-anchor="middle" font-weight="normal" font-style="normal" fill="#2a2a2a" stroke="#2a2a2a" stroke-width="0.1" textLength="10.6" lengthAdjust="spacingAndGlyphs">50</text>
<text x="646.90" y="298.20" font-size="10" text-anchor="middle" font-weight="normal" font-style="normal" fill="#1c1c1c" stroke="#1c1c1c" stroke-width="0.1" >Efficiency</text>
<text x="646.90" y="309.90" font-size="10" text-anchor="middle" font-weight="normal" font-style="normal" fill="#1c1c1c" stroke="#1c1c1c" stroke-width="0.1" >[1000 fs/call]</text>
<text x="23.40" y="207.60" font-size="10" text-anchor="end" font-weight="normal" font-style="normal" fill="#1c1c1c" stroke="#1c1c1c" stroke-width="0.1" >2</text>
<text x="23.40" y="242.20" font-size="10" text-anchor="end" font-weight="normal" font-style="normal" fill="#1c1c1c" stroke="#1c1c1c" stroke-width="0.1" >1</text>
<text x="23.20" y="276.80" font-size="10" text-anchor="end" font-weight="normal" font-style="normal" fill="#1c1c1c" stroke="#1c1c1c" stroke-width="0.1" >0</text>
<text transform="translate(13.4,237.2) rotate(-90)" font-size="10" text-anchor="middle" fill="#1c1c1c" stroke="#1c1c1c" stroke-width="0.1">Energy [KT]</text>
<text x="734.20" y="186.90" font-size="10" text-anchor="middle" font-weight="normal" font-style="normal" fill="#1c1c1c" stroke="#1c1c1c" stroke-width="0.1" >MSBD</text>
<text x="733.80" y="198.90" font-size="10" text-anchor="middle" font-weight="normal" font-style="normal" fill="#1c1c1c" stroke="#1c1c1c" stroke-width="0.1" >recursion</text>
<text x="734.20" y="209.40" font-size="10" text-anchor="middle" font-weight="normal" font-style="normal" fill="#1c1c1c" stroke="#1c1c1c" stroke-width="0.1" >depth</text>
<circle cx="725" cy="221.40" r="1.8" fill="#1010d8"/>
<text x="737.20" y="223.80" font-size="7" text-anchor="start" font-weight="normal" font-style="normal" fill="#333" >n=0</text>
<circle cx="725" cy="231.00" r="1.8" fill="#e8a32c"/>
<text x="737.20" y="233.40" font-size="7" text-anchor="start" font-weight="normal" font-style="normal" fill="#333" >n=1</text>
<circle cx="725" cy="240.60" r="1.8" fill="#17761f"/>
<text x="737.20" y="243.00" font-size="7" text-anchor="start" font-weight="normal" font-style="normal" fill="#333" >n=2</text>
<circle cx="725" cy="250.20" r="1.8" fill="#d0142a"/>
<text x="737.20" y="252.60" font-size="7" text-anchor="start" font-weight="normal" font-style="normal" fill="#333" >n=3</text>
</svg></body></html>
